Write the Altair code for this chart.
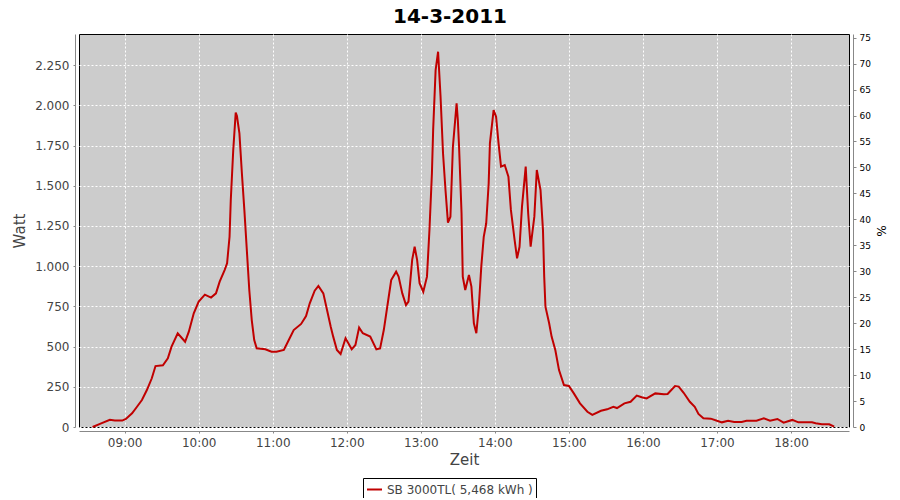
import altair as alt
import pandas as pd

# ---- data ----
times = [
    "08:34", "08:40", "08:48", "08:52", "08:58", "09:01", "09:06", "09:10", "09:14", "09:18",
    "09:22", "09:25", "09:31", "09:35", "09:38", "09:43", "09:49", "09:52", "09:56", "10:00",
    "10:05", "10:10", "10:14", "10:17", "10:21", "10:23", "10:25", "10:26", "10:28", "10:30",
    "10:31", "10:33", "10:35", "10:37", "10:39", "10:41", "10:43", "10:45", "10:47", "10:54",
    "10:59", "11:03", "11:09", "11:13", "11:17", "11:23", "11:27", "11:30", "11:34", "11:37",
    "11:41", "11:44", "11:47", "11:49", "11:52", "11:55", "11:59", "12:04", "12:07", "12:10",
    "12:13", "12:19", "12:24", "12:27", "12:30", "12:34", "12:36", "12:40", "12:42", "12:45",
    "12:48", "12:50", "12:53", "12:55", "12:57", "12:59", "13:02", "13:05", "13:07", "13:09",
    "13:10", "13:12", "13:14", "13:16", "13:18", "13:20", "13:22", "13:24", "13:26", "13:29",
    "13:30", "13:31", "13:33", "13:34", "13:36", "13:39", "13:41", "13:43", "13:45", "13:47",
    "13:49", "13:51", "13:53", "13:55", "13:56", "13:59", "14:01", "14:03", "14:05", "14:08",
    "14:11", "14:13", "14:16", "14:18", "14:20", "14:22", "14:25", "14:27", "14:29", "14:32",
    "14:34", "14:37", "14:39", "14:40", "14:41", "14:44", "14:46", "14:49", "14:52", "14:56",
    "15:00", "15:04", "15:09", "15:15", "15:19", "15:26", "15:31", "15:36", "15:39", "15:45",
    "15:50", "15:55", "15:59", "16:03", "16:10", "16:17", "16:20", "16:26", "16:29", "16:33",
    "16:38", "16:42", "16:45", "16:49", "16:55", "17:00", "17:04", "17:09", "17:14", "17:20",
    "17:24", "17:32", "17:38", "17:43", "17:49", "17:54", "18:01", "18:06", "18:17", "18:20",
    "18:25", "18:31", "18:35",
]
watts = [
    0, 19, 45, 40, 40, 50, 85, 126, 168, 230,
    303, 379, 384, 427, 500, 583, 530, 593, 707, 780,
    823, 805, 831, 904, 976, 1018, 1183, 1412, 1723, 1955,
    1934, 1826, 1578, 1350, 1101, 852, 665, 541, 489, 483,
    468, 468, 479, 541, 603, 641, 690, 769, 848, 877,
    831, 728, 624, 562, 479, 454, 552, 483, 510, 618,
    583, 562, 483, 489, 603, 810, 914, 966, 935, 831,
    759, 780, 1039, 1121, 1039, 894, 841, 935, 1225, 1578,
    1847, 2220, 2334, 2054, 1702, 1474, 1271, 1308, 1743, 2013,
    1909, 1743, 1329, 935, 852, 945, 873, 645, 583, 748,
    997, 1183, 1267, 1516, 1764, 1971, 1930, 1764, 1619, 1629,
    1557, 1350, 1163, 1049, 1121, 1370, 1619, 1329, 1121, 1308,
    1598, 1474, 1225, 935, 748, 645, 562, 479, 354, 261,
    255, 209, 147, 95, 75, 101, 110, 126, 118, 147,
    157, 195, 185, 178, 209, 203, 205, 255, 251, 213,
    157, 126, 81, 54, 52, 39, 29, 39, 31, 31,
    39, 39, 54, 39, 50, 27, 44, 29, 29, 23,
    17, 17, 2,
]
series_name = "SB 3000TL( 5,468 kWh )"
chart_title = "14-3-2011"
left_ticks = [0, 250, 500, 750, 1000, 1250, 1500, 1750, 2000, 2250]
right_ticks = [0, 5, 10, 15, 20, 25, 30, 35, 40, 45, 50, 55, 60, 65, 70, 75]
hour_ticks = [540, 600, 660, 720, 780, 840, 900, 960, 1020, 1080]  # minutes since midnight
x_domain = [503, 1127]
watt_max = 2444
pct_max = 75.7


def to_minutes(s):
    h, m = s.split(":")
    return int(h) * 60 + int(m)


df = pd.DataFrame({
    "t": [to_minutes(s) for s in times],
    "watt": watts,
    "serie": series_name,
})
df["pct"] = df["watt"] * pct_max / watt_max

FONT = "DejaVu Sans"

x_enc = alt.X(
    "t:Q",
    scale=alt.Scale(domain=x_domain, nice=False, zero=False),
    axis=alt.Axis(
        title="Zeit",
        values=hour_ticks,
        labelExpr="(floor(datum.value/60) < 10 ? '0' : '') + floor(datum.value/60) + ':00'",
        grid=True,
        gridColor="white",
        gridDash=[2, 2],
        gridOpacity=1,
        gridWidth=1,
        domainColor="#888888",
        offset=4,
        tickColor="#888888",
        tickSize=2,
        labelPadding=4,
        labelFont=FONT,
        labelFontSize=12,
        labelColor="#444444",
        titleFont=FONT,
        titleFontSize=15,
        titleFontWeight="normal",
        titleColor="#444444",
        titlePadding=4,
    ),
)

line = alt.Chart(df).mark_line(strokeWidth=2, interpolate="linear").encode(
    x=x_enc,
    y=alt.Y(
        "watt:Q",
        scale=alt.Scale(domain=[0, watt_max], nice=False),
        axis=alt.Axis(
            orient="left",
            title="Watt",
            values=left_ticks,
            labelExpr="replace(format(datum.value, ','), ',', '.')",
            grid=True,
            gridColor="white",
            gridDash=[2, 2],
            gridOpacity=1,
            gridWidth=1,
            domainColor="#888888",
            offset=4,
            tickColor="#888888",
            tickSize=2,
            labelPadding=4,
            labelFont=FONT,
            labelFontSize=12,
            labelColor="#444444",
            titleFont=FONT,
            titleFontSize=15,
            titleFontWeight="normal",
            titleColor="#444444",
            titlePadding=7,
        ),
    ),
    color=alt.Color(
        "serie:N",
        scale=alt.Scale(range=["#c00000"]),
        legend=alt.Legend(
            title=None,
            orient="none",
            legendX=284,
            legendY=444,
            direction="horizontal",
            strokeColor="black",
            fillColor="white",
            padding=3,
            cornerRadius=0,
            symbolType="stroke",
            symbolSize=225,
            symbolStrokeWidth=2,
            labelFont=FONT,
            labelFontSize=12,
            labelColor="#444444",
            labelLimit=400,
            labelOffset=4,
        ),
    ),
)

right = alt.Chart(df).mark_line(opacity=0).encode(
    x=x_enc,
    y=alt.Y(
        "pct:Q",
        scale=alt.Scale(domain=[0, pct_max], nice=False),
        axis=alt.Axis(
            orient="right",
            title="%",
            values=right_ticks,
            grid=False,
            domainColor="#888888",
            offset=4,
            tickColor="#888888",
            tickSize=3,
            labelPadding=3,
            labelFont=FONT,
            labelFontSize=9,
            labelColor="black",
            titleFont=FONT,
            titleFontSize=12,
            titleFontWeight="normal",
            titleColor="black",
            titlePadding=3,
        ),
    ),
)

chart = (
    alt.layer(line, right)
    .resolve_scale(y="independent")
    .properties(
        width=770,
        height=393,
        padding={"left": 71, "top": 26, "right": 43, "bottom": 71},
        autosize=alt.AutoSizeParams(type="none"),
        background="white",
        title=alt.TitleParams(
            chart_title,
            font=FONT,
            fontSize=20,
            fontWeight="bold",
            color="black",
            anchor="middle",
            dx=-14,
            offset=7,
        ),
    )
    .configure_view(stroke="black", strokeWidth=1, fill="#cccccc")
)

chart.save("out.html", embed_options={"renderer": "svg", "actions": False})
